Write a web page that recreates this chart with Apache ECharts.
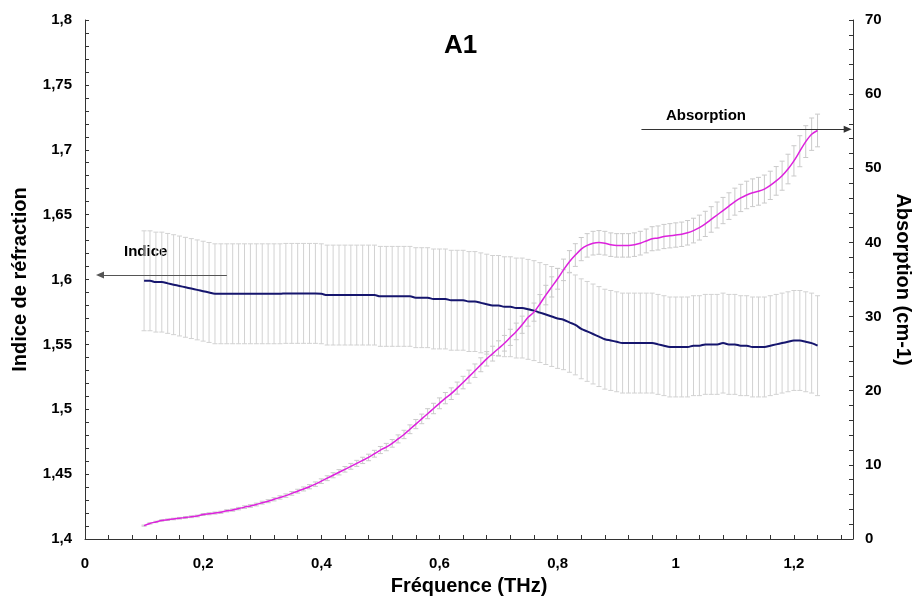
<!DOCTYPE html>
<html>
<head>
<meta charset="utf-8">
<script src="https://cdn.jsdelivr.net/npm/echarts@6/dist/echarts.min.js"></script>
<style>html,body{margin:0;padding:0;background:#fff;}#chart{width:915px;height:601px;}</style>
</head>
<body>
<div id="chart"></div>
<script>
// Frequencies (THz)
const freq = [
  0.10,0.11,0.12,0.13,0.14,0.15,0.16,0.17,0.18,0.19,
  0.20,0.21,0.22,0.23,0.24,0.25,0.26,0.27,0.28,0.29,
  0.30,0.31,0.32,0.33,0.34,0.35,0.36,0.37,0.38,0.39,
  0.40,0.41,0.42,0.43,0.44,0.45,0.46,0.47,0.48,0.49,
  0.50,0.51,0.52,0.53,0.54,0.55,0.56,0.57,0.58,0.59,
  0.60,0.61,0.62,0.63,0.64,0.65,0.66,0.67,0.68,0.69,
  0.70,0.71,0.72,0.73,0.74,0.75,0.76,0.77,0.78,0.79,
  0.80,0.81,0.82,0.83,0.84,0.85,0.86,0.87,0.88,0.89,
  0.90,0.91,0.92,0.93,0.94,0.95,0.96,0.97,0.98,0.99,
  1.00,1.01,1.02,1.03,1.04,1.05,1.06,1.07,1.08,1.09,
  1.10,1.11,1.12,1.13,1.14,1.15,1.16,1.17,1.18,1.19,
  1.20,1.21,1.22,1.23,1.24
];
// Refractive index
const indice = [
  1.599,1.599,1.598,1.598,1.597,1.596,1.595,1.594,1.593,1.592,
  1.591,1.590,1.589,1.589,1.589,1.589,1.589,1.589,1.589,1.589,
  1.589,1.589,1.589,1.589,1.5893,1.5893,1.5893,1.5893,1.5893,1.5893,
  1.589,1.588,1.588,1.588,1.588,1.588,1.588,1.588,1.588,1.588,
  1.587,1.587,1.587,1.587,1.587,1.587,1.586,1.586,1.586,1.585,
  1.585,1.585,1.584,1.584,1.584,1.583,1.583,1.582,1.581,1.580,
  1.580,1.579,1.579,1.578,1.578,1.577,1.576,1.5745,1.573,1.5715,
  1.570,1.569,1.567,1.565,1.562,1.560,1.558,1.556,1.554,1.553,
  1.552,1.551,1.551,1.551,1.551,1.551,1.551,1.550,1.549,1.548,
  1.548,1.548,1.548,1.549,1.549,1.550,1.550,1.550,1.551,1.550,
  1.550,1.549,1.549,1.548,1.548,1.548,1.549,1.550,1.551,1.552,
  1.553,1.553,1.552,1.551,1.549
];
const indiceErr = 0.0385;   // fixed error bar value
// Absorption (cm-1)
const absorption = [
  1.8,2.1,2.3,2.5,2.6,2.7,2.8,2.9,3.0,3.1,
  3.3,3.4,3.5,3.6,3.8,3.9,4.1,4.3,4.45,4.65,
  4.9,5.1,5.35,5.6,5.85,6.15,6.45,6.75,7.05,7.4,
  7.8,8.2,8.6,9.0,9.4,9.8,10.2,10.6,11.0,11.5,
  12.0,12.4,12.9,13.5,14.1,14.8,15.5,16.2,16.9,17.6,
  18.3,19.0,19.6,20.35,21.1,21.9,22.7,23.5,24.3,25.0,
  25.7,26.4,27.2,28.0,28.9,29.9,30.6,31.7,32.9,34.0,
  35.1,36.3,37.4,38.3,39.1,39.6,39.9,40.0,39.9,39.7,
  39.6,39.6,39.6,39.7,39.9,40.2,40.5,40.6,40.8,40.9,
  41.0,41.1,41.3,41.6,42.0,42.5,43.1,43.7,44.3,44.9,
  45.5,46.0,46.4,46.7,46.9,47.2,47.7,48.3,49.0,49.9,
  51.0,52.3,53.6,54.6,55.1
];
const absorptionErrPct = 0.04; // percentage error bars

const fmt = v => String(+v.toFixed(2)).replace('.', ',');
const font = '"Liberation Sans", Arial, sans-serif';

function errRender(color, hw) {
  return function (params, api) {
    const x = api.value(0), lo = api.value(1), hi = api.value(2);
    const a = api.coord([x, hi]), b = api.coord([x, lo]);
    const st = { stroke: color, lineWidth: 1 };
    return {
      type: 'group',
      children: [
        { type: 'line', shape: { x1: a[0], y1: a[1], x2: b[0], y2: b[1] }, style: st },
        { type: 'line', shape: { x1: a[0] - hw, y1: a[1], x2: a[0] + hw, y2: a[1] }, style: st },
        { type: 'line', shape: { x1: b[0] - hw, y1: b[1], x2: b[0] + hw, y2: b[1] }, style: st }
      ]
    };
  };
}

const chart = echarts.init(document.getElementById('chart'));
const axisLineStyle = { color: '#333', width: 1 };
const labelStyle = { color: '#000', fontWeight: 'bold', fontSize: 15, fontFamily: font };
const nameStyle = { color: '#000', fontWeight: 'bold', fontSize: 20, fontFamily: font };

chart.setOption({
  animation: false,
  backgroundColor: '#fff',
  title: {
    text: 'A1', left: 439, top: 28,
    textStyle: { color: '#000', fontWeight: 'bold', fontSize: 26, fontFamily: font }
  },
  grid: { left: 85, right: 62, top: 20, bottom: 62, containLabel: false, outerBoundsMode: 'none' },
  xAxis: {
    type: 'value', min: 0, max: 1.3, interval: 0.04,
    name: 'Fréquence (THz)', nameLocation: 'middle', nameGap: 37, nameTextStyle: nameStyle,
    axisLine: { show: true, lineStyle: axisLineStyle },
    axisTick: { show: true, inside: true, length: 4, lineStyle: axisLineStyle },
    axisLabel: Object.assign({
      interval: 0, margin: 17, showMaxLabel: true,
      formatter: v => (Math.abs(v / 0.2 - Math.round(v / 0.2)) < 1e-6 ? fmt(v) : '')
    }, labelStyle),
    splitLine: { show: false }
  },
  yAxis: [
    {
      type: 'value', min: 1.4, max: 1.8, interval: 0.05, position: 'left',
      name: 'Indice de réfraction', nameLocation: 'middle', nameGap: 55, nameTextStyle: nameStyle,
      axisLine: { show: true, lineStyle: axisLineStyle },
      axisTick: { show: true, inside: true, length: 4, lineStyle: axisLineStyle },
      minorTick: { show: true, splitNumber: 5, length: 4, lineStyle: axisLineStyle },
      axisLabel: Object.assign({ margin: 13, formatter: fmt }, labelStyle),
      splitLine: { show: false }
    },
    {
      type: 'value', min: 0, max: 70, interval: 10, position: 'right',
      name: 'Absorption (cm-1)', nameLocation: 'middle', nameGap: 39, nameRotate: -90, nameTextStyle: nameStyle,
      axisLine: { show: true, lineStyle: axisLineStyle },
      axisTick: { show: true, inside: true, length: 4, lineStyle: axisLineStyle },
      minorTick: { show: true, splitNumber: 5, length: 4, lineStyle: axisLineStyle },
      axisLabel: Object.assign({ margin: 12, formatter: fmt }, labelStyle),
      splitLine: { show: false }
    }
  ],
  series: [
    {
      type: 'custom', name: 'indiceErr', yAxisIndex: 0, z: 1,
      renderItem: errRender('#d2d2d2', 2.5),
      encode: { x: 0, y: [1, 2] },
      data: indice.map((v, i) => [freq[i], v - indiceErr, v + indiceErr])
    },
    {
      type: 'custom', name: 'absErr', yAxisIndex: 1, z: 2,
      renderItem: errRender('#cacaca', 2.5),
      encode: { x: 0, y: [1, 2] },
      data: absorption.map((v, i) => [freq[i], v * (1 - absorptionErrPct), v * (1 + absorptionErrPct)])
    },
    {
      type: 'line', name: 'Indice', yAxisIndex: 0, z: 3,
      showSymbol: false, symbol: 'none', smooth: 0.4,
      lineStyle: { color: '#16166e', width: 2 },
      data: indice.map((v, i) => [freq[i], v]),
      markLine: {
        silent: true, symbol: ['none', 'triangle'], symbolSize: [7, 8],
        label: { show: false },
        lineStyle: { color: '#555', width: 1, type: 'solid' },
        data: [[{ coord: [0.2402, 1.6035] }, { coord: [0.0254, 1.6035] }]]
      }
    },
    {
      type: 'line', name: 'Absorption', yAxisIndex: 1, z: 4,
      showSymbol: false, symbol: 'none', smooth: 0.3,
      lineStyle: { color: '#dd22dd', width: 1.5 },
      data: absorption.map((v, i) => [freq[i], v]),
      markLine: {
        silent: true, symbol: ['none', 'triangle'], symbolSize: [7, 8],
        label: { show: false },
        lineStyle: { color: '#333', width: 1, type: 'solid' },
        data: [[{ coord: [0.9419, 55.26] }, { coord: [1.291, 55.26] }]]
      }
    }
  ],
  graphic: [
    { type: 'text', left: 124, top: 244, style: { text: 'Indice', fill: '#000', font: 'bold 15px ' + font } },
    { type: 'text', left: 666, top: 108, style: { text: 'Absorption', fill: '#000', font: 'bold 15px ' + font } }
  ]
});
</script>
</body>
</html>
